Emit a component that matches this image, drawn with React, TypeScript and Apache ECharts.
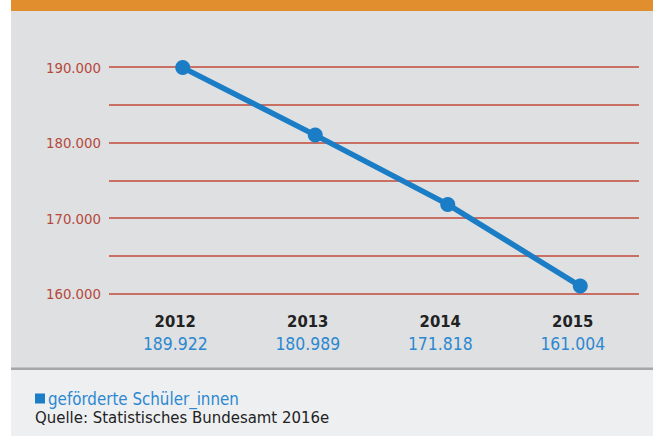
import React, { useEffect, useRef } from "react";
import * as echarts from "echarts";

const years = ["2012", "2013", "2014", "2015"];
const pupils = [189922, 180989, 171818, 161004];
const seriesName = "geförderte Schüler_innen";
const sourceText = "Quelle: Statistisches Bundesamt 2016e";
const yMin = 160000;
const yMax = 190000;
const yStep = 5000;

const FONT = '"DejaVu Sans Condensed", "Liberation Sans Narrow", "Liberation Sans", sans-serif';

function fmtThousands(v: number): string {
  return (v / 1000).toFixed(3);
}

export default function App() {
  const ref = useRef<HTMLDivElement>(null);
  useEffect(() => {
    if (!ref.current) return;
    const chart = echarts.init(ref.current, undefined, { renderer: "svg" });
    const gridTop = 67;
    const gridBottom = 142.3;
    chart.setOption({
      animation: false,
      textStyle: { fontFamily: FONT },
      graphic: [
        { type: "rect", z: -10, shape: { x: 11, y: 0, width: 642, height: 11 }, style: { fill: "#e08e2e" } },
        { type: "rect", z: -10, shape: { x: 11, y: 11, width: 642, height: 357 }, style: { fill: "#dfe0e2" } },
        { type: "rect", z: -10, shape: { x: 11, y: 367.5, width: 642, height: 2.5 }, style: { fill: "#a5a6a8" } },
        { type: "rect", z: -10, shape: { x: 11, y: 370, width: 642, height: 66 }, style: { fill: "#eeeff1" } },
        {
          type: "text",
          x: 35,
          y: 417,
          style: {
            text: sourceText,
            fill: "#222222",
            fontSize: 16.6,
            fontFamily: FONT,
            verticalAlign: "middle",
          },
        },
      ],
      legend: {
        left: 35,
        top: 390,
        padding: 0,
        icon: "rect",
        itemWidth: 10,
        itemHeight: 10,
        itemGap: 10,
        data: [seriesName],
        textStyle: { color: "#2b88d0", fontSize: 16.8, fontFamily: FONT, padding: [0, 0, 0, -2] },
      },
      grid: [
        { left: 109, right: 14, top: gridTop, bottom: gridBottom },
        { left: 116.5, right: 6.5, top: gridTop, bottom: gridBottom },
      ],
      xAxis: [
        {
          type: "category",
          gridIndex: 0,
          data: years,
          boundaryGap: true,
          axisLine: { show: false },
          axisTick: { show: false },
          axisLabel: {
            margin: 17,
            formatter: (val: string, idx: number) => `{y|${val}}\n{v|${fmtThousands(pupils[idx])}}`,
            rich: {
              y: { fontSize: 16.5, fontWeight: "bold", color: "#222222", lineHeight: 22, fontFamily: FONT },
              v: { fontSize: 17.4, color: "#2b88d0", lineHeight: 22, fontFamily: FONT },
            },
          },
        },
        {
          type: "category",
          gridIndex: 1,
          data: years,
          boundaryGap: true,
          show: false,
        },
      ],
      yAxis: [
        {
          type: "value",
          gridIndex: 0,
          min: yMin,
          max: yMax,
          interval: yStep,
          axisLine: { show: false },
          axisTick: { show: false },
          axisLabel: {
            margin: 8,
            color: "#b5493c",
            fontSize: 14.8,
            fontFamily: FONT,
            formatter: (v: number) => (v % 10000 === 0 ? fmtThousands(v) : ""),
          },
          splitLine: { show: true, lineStyle: { color: "#c24a3a", width: 1.5 } },
        },
        {
          type: "value",
          gridIndex: 1,
          min: yMin,
          max: yMax,
          interval: yStep,
          show: false,
          splitLine: { show: false },
        },
      ],
      series: [
        {
          name: seriesName,
          type: "line",
          xAxisIndex: 1,
          yAxisIndex: 1,
          data: pupils,
          symbol: "circle",
          symbolSize: 15,
          clip: false,
          itemStyle: { color: "#1a7dc5" },
          lineStyle: { color: "#1a7dc5", width: 5.5 },
        },
      ],
    });
    return () => chart.dispose();
  }, []);
  return (
    <div
      ref={ref}
      style={{ position: "fixed", left: 0, top: 0, width: 653, height: 436, background: "#ffffff" }}
    />
  );
}
